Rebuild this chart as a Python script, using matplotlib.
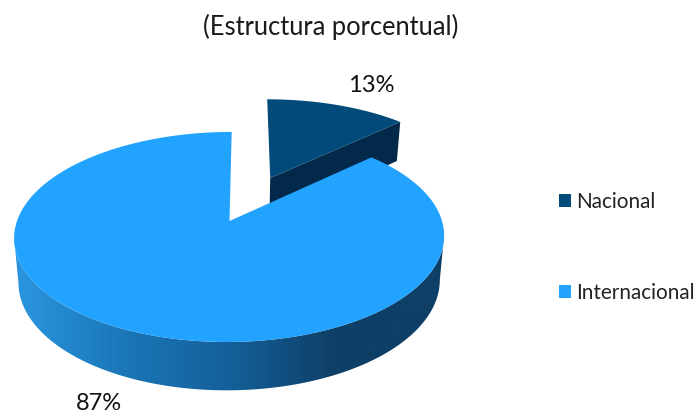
import numpy as np
import matplotlib
matplotlib.use('Agg')
import matplotlib.pyplot as plt
from matplotlib.colors import LinearSegmentedColormap
from matplotlib.patches import Polygon, Patch

# donnees
categories = ['Nacional', 'Internacional']
shares = [13, 87]
labels = ['13%', '87%']
title = '(Estructura porcentual)'

color_nac = '#024a7a'
color_nac_side = '#03294a'
color_int = '#21a3ff'

plt.rcParams['font.family'] = ['Lato', 'DejaVu Sans']

# perspective du disque, en pixels de l'image
cx, cy = 229.5, 221
A, B, k = 102.6, 212.5, 0.152
shear = 2.5
depth = 43.5
shrink = 0.98
explode = 0.487


def project(a, r=1.0, off=(0.0, 0.0), low=False):
    # a en radians, sens horaire depuis le haut
    u = off[0] + r * np.sin(a)
    v = off[1] + r * np.cos(a)
    w = 1 + k * v
    x, y = B * u / w + shear * v / w, -A * v / w
    if low:
        return np.column_stack([cx + shrink * x, cy + y + depth / (1 + 0.1 * v)])
    return np.column_stack([cx + x, cy + y])


fig = plt.figure(figsize=(6.96, 4.12), dpi=100)
ax = fig.add_axes([0, 0, 1, 1])
ax.set_xlim(0, 696)
ax.set_ylim(412, 0)
ax.axis('off')

end_nac = 2 * np.pi * shares[0] / sum(shares)
mid = end_nac / 2
off = (explode * np.sin(mid) + 0.006, explode * np.cos(mid))

# tranche Nacional, detachee
arc = np.linspace(0, end_nac, 60)
apex_top = project(np.array([0.0]), 0, off)
apex_low = project(np.array([0.0]), 0, off, low=True)
edge = np.array([end_nac])
ax.add_patch(Polygon(np.vstack([apex_top, project(edge, 1, off), project(edge, 1, off, True), apex_low]),
                     fc=color_nac_side, ec='none', zorder=2))
ax.add_patch(Polygon(np.vstack([apex_top, project(arc, 1, off)]),
                     fc=color_nac, ec='none', zorder=3))

# flanc de la tranche Internacional, en degrade
arc = np.linspace(end_nac, 2 * np.pi, 600)
top = project(arc)
low = project(arc, low=True)
# le flanc va d'un bord visible a l'autre du disque
r_top, l_top = top[:, 0].argmax(), top[:, 0].argmin()
r_low, l_low = low[:, 0].argmax(), low[:, 0].argmin()
side = Polygon(np.vstack([top[r_top:l_top + 1], low[r_low:l_low + 1][::-1]]), fc='none', ec='none')
ax.add_patch(side)
grad = LinearSegmentedColormap.from_list('flanc', ['#2a96e0', '#1b77b8', '#14609a', '#0e3f66', '#0e3f66'])
im = ax.imshow(np.linspace(0, 1, 256)[None, :], cmap=grad, extent=(14, 444, 400, 230),
               aspect='auto', zorder=4)
im.set_clip_path(side)
ax.set_xlim(0, 696)
ax.set_ylim(412, 0)

# dessus de la tranche Internacional
ax.add_patch(Polygon(np.vstack([project(np.array([0.0]), 0), top]), fc=color_int, ec='none', zorder=5))

ax.text(331, 27, title, ha='center', va='center', fontsize=18.4, color='#1a1a1a')
ax.text(371, 85, labels[0], ha='center', va='center', fontsize=17, color='#111111')
ax.text(99, 403, labels[1], ha='center', va='center', fontsize=17, color='#111111')

handles = [Patch(fc=color_nac, ec='none'), Patch(fc=color_int, ec='none')]
ax.legend(handles, categories, loc='center left', bbox_to_anchor=(559 / 696, 1 - 247.5 / 412),
          frameon=False, fontsize=14.9, labelspacing=3.45, handlelength=0.58, handleheight=0.58,
          handletextpad=0.25, borderpad=0, borderaxespad=0, labelcolor='#222222')

fig.savefig('out.png', dpi=100)
